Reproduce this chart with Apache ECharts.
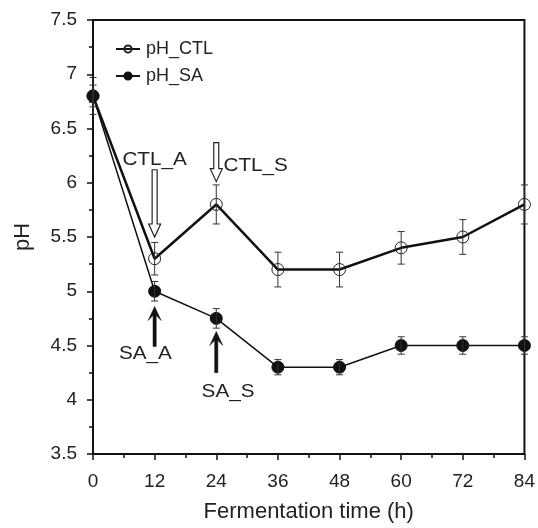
<!DOCTYPE html>
<html>
<head>
<meta charset="utf-8">
<script src="https://cdn.jsdelivr.net/npm/echarts@6/dist/echarts.min.js"></script>
<style>
  html, body { margin: 0; padding: 0; background: #fff; }
  #chart { width: 538px; height: 528px; }
</style>
</head>
<body>
<div id="chart"></div>
<script>
const hours = [0, 12, 24, 36, 48, 60, 72, 84];
const phCtl = [6.8, 5.3, 5.8, 5.2, 5.2, 5.4, 5.5, 5.8];
const errCtl = [0.17, 0.15, 0.18, 0.16, 0.16, 0.15, 0.16, 0.18];
const phSa = [6.8, 5.0, 4.75, 4.3, 4.3, 4.5, 4.5, 4.5];
const errSa = [0.1, 0.09, 0.09, 0.07, 0.07, 0.08, 0.08, 0.08];

// arrows: [hour, tail pH, tip pH, kind (0 hollow, 1 filled)]
const arrows = [[12, 6.12, 5.5, 0], [24, 6.37, 6.01, 0], [12, 4.49, 4.86, 1], [24, 4.25, 4.63, 1]];
// labels: [hour, pH, text, align]
const notes = [[12, 6.21, 'CTL_A', 'center'], [25.4, 6.15, 'CTL_S', 'left'], [10.2, 4.42, 'SA_A', 'center'], [26.3, 4.07, 'SA_S', 'center']];

const font = 'Liberation Sans, Arial, sans-serif';
let chartDom = document.getElementById('chart');
let myChart = echarts.init(chartDom);
let option;

function errorBars(vals, errs) {
  return hours.map((h, i) => [h, vals[i] - errs[i], vals[i] + errs[i]]);
}

function renderError(params, api) {
  const lo = api.coord([api.value(0), api.value(1)]);
  const hi = api.coord([api.value(0), api.value(2)]);
  const w = 3.5;
  const style = {stroke: '#333', lineWidth: 1};
  return {
    type: 'group',
    children: [
      {type: 'line', shape: {x1: lo[0], y1: lo[1], x2: hi[0], y2: hi[1]}, style},
      {type: 'line', shape: {x1: lo[0] - w, y1: lo[1], x2: lo[0] + w, y2: lo[1]}, style},
      {type: 'line', shape: {x1: hi[0] - w, y1: hi[1], x2: hi[0] + w, y2: hi[1]}, style}
    ]
  };
}

function renderArrow(params, api) {
  const tail = api.coord([api.value(0), api.value(1)]);
  const tip = api.coord([api.value(0), api.value(2)]);
  const kind = api.value(3);
  const x = tail[0];
  const d = tip[1] > tail[1] ? 1 : -1;
  let pts;
  if (kind === 0) {
    const hw = 2.5, hh = 6, hl = 13;
    pts = [[x - hw, tail[1]], [x - hw, tip[1] - d * hl], [x - hh, tip[1] - d * hl], [x, tip[1]],
      [x + hh, tip[1] - d * hl], [x + hw, tip[1] - d * hl], [x + hw, tail[1]]];
    return {type: 'polygon', shape: {points: pts}, style: {fill: '#fff', stroke: '#222', lineWidth: 1.2}};
  }
  const hw = 1.6, hh = 6.5, hl = 14, notch = 5;
  pts = [[x - hw, tail[1]], [x - hw, tip[1] - d * (hl - notch)], [x - hh, tip[1] - d * hl], [x, tip[1]],
    [x + hh, tip[1] - d * hl], [x + hw, tip[1] - d * (hl - notch)], [x + hw, tail[1]]];
  return {type: 'polygon', shape: {points: pts}, style: {fill: '#111', stroke: '#111', lineWidth: 0.5}};
}

function renderNote(params, api) {
  const p = api.coord([api.value(0), api.value(1)]);
  const n = notes[params.dataIndex];
  return {
    type: 'text',
    x: p[0], y: p[1], scaleX: 1.15,
    style: {text: n[2], fill: '#222', font: '18px ' + font, align: n[3], verticalAlign: 'middle'}
  };
}

option = {
  animation: false,
  backgroundColor: '#fff',
  textStyle: {fontFamily: font},
  grid: {
    left: 93, top: 20, right: 9, bottom: 71,
    show: true, borderColor: '#111', borderWidth: 2
  },
  legend: {
    orient: 'vertical',
    left: 110, top: 35,
    itemWidth: 24, itemHeight: 9, itemGap: 9,
    textStyle: {fontSize: 18, color: '#222', fontFamily: font, padding: [0, 0, 0, 1]},
    data: ['pH_CTL', 'pH_SA']
  },
  xAxis: {
    type: 'value',
    min: 0, max: 84, interval: 12,
    name: 'Fermentation time (h)',
    nameLocation: 'middle', nameGap: 47,
    nameTextStyle: {fontSize: 22, color: '#222'},
    axisLine: {lineStyle: {color: '#111', width: 2}},
    axisTick: {length: 6, lineStyle: {color: '#111', width: 1.5}},
    minorTick: {show: true, splitNumber: 2, length: 4, lineStyle: {color: '#111', width: 1.5}},
    axisLabel: {fontSize: 19, color: '#222', margin: 18},
    splitLine: {show: false}
  },
  yAxis: {
    type: 'value',
    min: 3.5, max: 7.5, interval: 0.5,
    name: 'pH',
    nameLocation: 'middle', nameGap: 59,
    nameTextStyle: {fontSize: 22, color: '#222'},
    axisLine: {show: true, lineStyle: {color: '#111', width: 2}},
    axisTick: {show: true, length: 6, lineStyle: {color: '#111', width: 1.5}},
    minorTick: {show: true, splitNumber: 2, length: 4, lineStyle: {color: '#111', width: 1.5}},
    axisLabel: {fontSize: 19, color: '#222', margin: 16},
    splitLine: {show: false}
  },
  series: [
    {
      type: 'custom', name: 'errCtl', renderItem: renderError,
      data: errorBars(phCtl, errCtl), z: 3, silent: true
    },
    {
      type: 'custom', name: 'errSa', renderItem: renderError,
      data: errorBars(phSa, errSa), z: 3, silent: true
    },
    {
      name: 'pH_CTL', type: 'line',
      data: hours.map((h, i) => [h, phCtl[i]]),
      symbol: 'circle', symbolSize: 12, showAllSymbol: true,
      lineStyle: {color: '#111', width: 2.5},
      itemStyle: {color: 'rgba(255,255,255,0)', borderColor: '#222', borderWidth: 1},
      z: 2
    },
    {
      name: 'pH_SA', type: 'line',
      data: hours.map((h, i) => [h, phSa[i]]),
      symbol: 'circle', symbolSize: 12, showAllSymbol: true,
      lineStyle: {color: '#111', width: 1.5},
      itemStyle: {color: '#111', borderColor: '#111', borderWidth: 1},
      z: 2
    },
    {
      type: 'custom', name: 'arrows', renderItem: renderArrow,
      data: arrows, z: 4, silent: true
    },
    {
      type: 'custom', name: 'notes', renderItem: renderNote,
      data: notes.map(n => [n[0], n[1]]), z: 4, silent: true
    }
  ]
};

option && myChart.setOption(option);
</script>
</body>
</html>
